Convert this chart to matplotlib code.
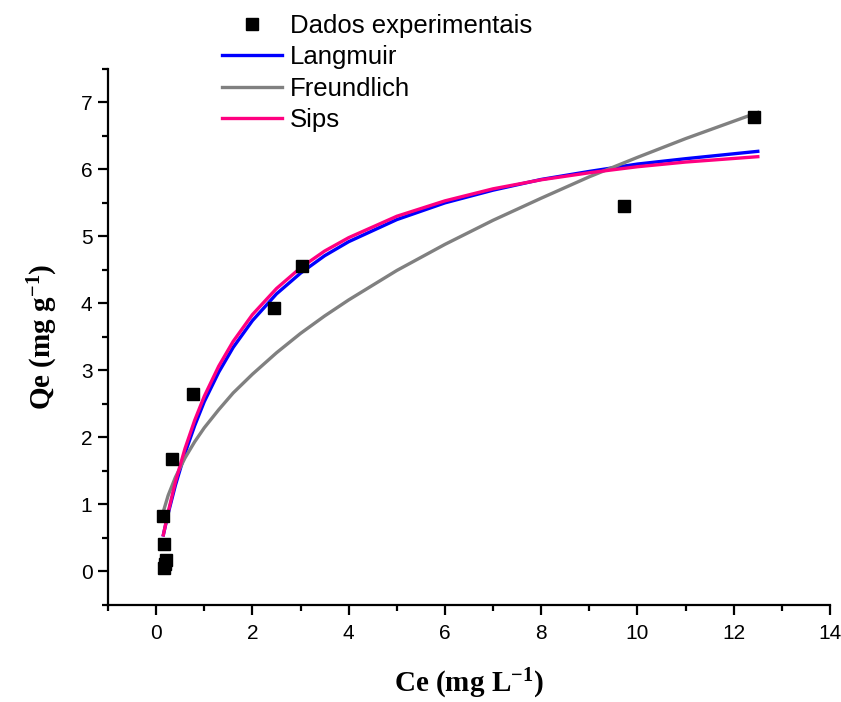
import matplotlib
matplotlib.use("Agg")
import matplotlib.pyplot as plt
from matplotlib.ticker import MultipleLocator

# Experimental data
ce_exp = [12.43, 9.71, 3.03, 2.45, 0.77, 0.33, 0.15, 0.17, 0.20, 0.18, 0.16]
qe_exp = [6.78, 5.45, 4.55, 3.93, 2.64, 1.67, 0.82, 0.40, 0.17, 0.10, 0.05]

# Fitted curves
ce_fit = [0.15, 0.25, 0.4, 0.6, 0.8, 1.0, 1.3, 1.6, 2.0, 2.5, 3.0, 3.5, 4.0,
          5.0, 6.0, 7.0, 8.0, 9.0, 10.0, 11.0, 12.5]
q_langmuir = [0.54, 0.86, 1.28, 1.76, 2.17, 2.53, 2.97, 3.34, 3.74, 4.14, 4.45,
              4.71, 4.92, 5.25, 5.50, 5.69, 5.85, 5.97, 6.08, 6.16, 6.27]
q_freundlich = [0.89, 1.13, 1.40, 1.69, 1.93, 2.14, 2.41, 2.66, 2.94, 3.26, 3.55,
                3.81, 4.05, 4.49, 4.88, 5.24, 5.57, 5.89, 6.18, 6.46, 6.85]
q_sips = [0.54, 0.88, 1.33, 1.83, 2.25, 2.61, 3.06, 3.43, 3.83, 4.22, 4.53,
          4.78, 4.98, 5.30, 5.53, 5.71, 5.845, 5.95, 6.04, 6.11, 6.19]

labels = ["Dados experimentais", "Langmuir", "Freundlich", "Sips"]
x_ticks = [0, 2, 4, 6, 8, 10, 12, 14]
y_ticks = [0, 1, 2, 3, 4, 5, 6, 7]

plt.rcParams['font.family'] = ['Liberation Sans', 'DejaVu Sans']
plt.rcParams['mathtext.fontset'] = 'custom'
plt.rcParams['mathtext.rm'] = 'Liberation Serif:bold'
plt.rcParams['mathtext.it'] = 'Liberation Serif:bold'
plt.rcParams['mathtext.bf'] = 'Liberation Serif:bold'

fig = plt.figure(figsize=(8.41, 7.02), dpi=100)
ax = fig.add_axes([108/841, 1 - 604.5/702, (830-108)/841, (604.5-69)/702])

h0, = ax.plot(ce_exp, qe_exp, linestyle='none', marker='s', markersize=9,
              color='black', label=labels[0], zorder=5)
h1, = ax.plot(ce_fit, q_langmuir, color='#0000FF', lw=2.4, label=labels[1])
h2, = ax.plot(ce_fit, q_freundlich, color='#808080', lw=2.4, label=labels[2])
h3, = ax.plot(ce_fit, q_sips, color='#FF0080', lw=2.4, label=labels[3])

ax.set_xlim(-1, 14)
ax.set_ylim(-0.5, 7.5)
ax.set_xticks(x_ticks)
ax.set_yticks(y_ticks)
ax.xaxis.set_minor_locator(MultipleLocator(1))
ax.yaxis.set_minor_locator(MultipleLocator(0.5))
for side in ['top', 'right']:
    ax.spines[side].set_visible(False)
for side in ['left', 'bottom']:
    ax.spines[side].set_linewidth(1.6)
ax.tick_params(which='major', direction='out', length=7.2, width=1.6, labelsize=15)
ax.tick_params(which='minor', direction='out', length=4.3, width=1.6)
ax.tick_params(axis='x', which='major', pad=7)
ax.tick_params(axis='y', which='major', pad=4)

ax.set_xlabel(r'Ce (mg L$^{-1}$)', fontsize=21, fontweight='bold',
              family='Liberation Serif', labelpad=17)
ax.set_ylabel(r'Qe (mg g$^{-1}$)', fontsize=21, fontweight='bold',
              family='Liberation Serif', labelpad=15)

fig.legend(handles=[h0, h1, h2, h3], loc='upper left',
           bbox_to_anchor=(222/841, 1 - 14/702), frameon=False,
           fontsize=18.5, handlelength=2.35, handletextpad=0.28,
           labelspacing=0.29, borderpad=0, borderaxespad=0, numpoints=1)

fig.savefig('out.png', dpi=100)
